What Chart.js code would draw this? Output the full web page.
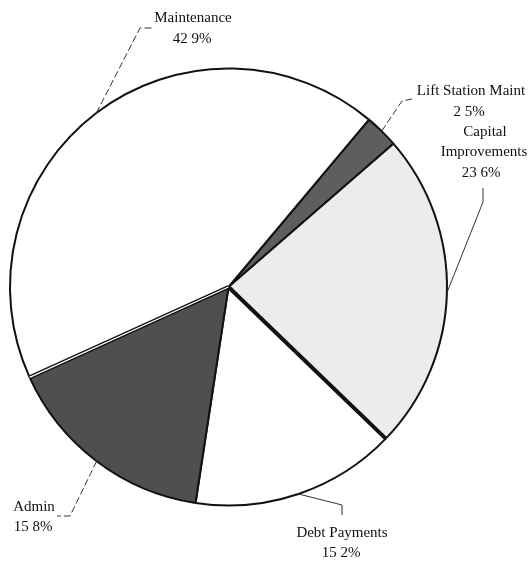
<!DOCTYPE html>
<html>
<head>
<meta charset="utf-8">
<script src="https://cdn.jsdelivr.net/npm/chart.js@4.4.1/dist/chart.umd.min.js"></script>
<style>
  html, body { margin: 0; padding: 0; background: #fff; }
  #wrap { width: 529px; height: 561px; }
</style>
</head>
<body>
<div id="wrap"><canvas id="pie" width="529" height="561"></canvas></div>
<script>
// slice order runs clockwise starting just right of the top
const categories = ["Lift Station Maint", "Capital Improvements", "Debt Payments", "Admin", "Maintenance"];
const shares = [2.5, 23.6, 15.2, 15.8, 42.9];
const shareText = ["2 5%", "23 6%", "15 2%", "15 8%", "42 9%"];
const sliceColors = ["#5e5e5e", "#ececec", "#ffffff", "#4f4f4f", "#ffffff"];

// label text lines, placed around the pie, with leader line bends
const callouts = [
  { lines: ["Lift Station Maint", shareText[0]], at: [[471, 91], [469, 112]], bend: [[402, 101], [412, 99]], dash: true },
  { lines: ["Capital", "Improvements", shareText[1]], at: [[485, 132], [484, 152], [481, 173]], bend: [[483, 202], [483, 188]], dash: false },
  { lines: ["Debt Payments", shareText[2]], at: [[342, 533], [341, 553]], bend: [[342, 505], [342, 515]], dash: false },
  { lines: ["Admin", shareText[3]], at: [[34, 507], [33, 527]], bend: [[70, 516], [57, 516]], dash: true },
  { lines: ["Maintenance", shareText[4]], at: [[193, 18], [192, 39]], bend: [[140, 28], [152, 28]], dash: true },
];

function edge(ctx, arc, angle, width, color) {
  ctx.strokeStyle = color;
  ctx.lineWidth = width;
  ctx.beginPath();
  ctx.moveTo(arc.x, arc.y);
  ctx.lineTo(arc.x + Math.cos(angle) * arc.outerRadius, arc.y + Math.sin(angle) * arc.outerRadius);
  ctx.stroke();
}

const calloutPlugin = {
  id: "callouts",
  afterDatasetsDraw(chart) {
    const ctx = chart.ctx;
    const arcs = chart.getDatasetMeta(0).data;
    ctx.save();
    // heavy divider between Capital and Debt, doubled one between Admin and Maintenance
    edge(ctx, arcs[1], arcs[1].endAngle, 4, "#111");
    edge(ctx, arcs[3], arcs[3].endAngle, 4, "#111");
    edge(ctx, arcs[3], arcs[3].endAngle, 1.3, "#fff");
    callouts.forEach((c, i) => {
      const arc = arcs[i];
      const mid = (arc.startAngle + arc.endAngle) / 2;
      const ax = arc.x + Math.cos(mid) * arc.outerRadius;
      const ay = arc.y + Math.sin(mid) * arc.outerRadius;
      ctx.strokeStyle = "#333";
      ctx.lineWidth = 1;
      ctx.setLineDash(c.dash ? [7, 3] : []);
      ctx.beginPath();
      ctx.moveTo(ax, ay);
      c.bend.forEach(p => ctx.lineTo(p[0], p[1]));
      ctx.stroke();
      ctx.setLineDash([]);
      ctx.fillStyle = "#111";
      ctx.font = "15px 'Liberation Serif', 'Times New Roman', serif";
      ctx.textAlign = "center";
      ctx.textBaseline = "middle";
      c.lines.forEach((t, j) => ctx.fillText(t, c.at[j][0], c.at[j][1]));
    });
    ctx.restore();
  }
};

new Chart(document.getElementById("pie"), {
  type: "pie",
  data: {
    labels: categories,
    datasets: [{
      data: shares,
      backgroundColor: sliceColors,
      borderColor: "#111",
      borderWidth: 2,
      hoverOffset: 0,
    }],
  },
  options: {
    responsive: false,
    animation: false,
    events: [],
    rotation: 40,
    layout: { padding: { left: 9, right: 81, top: 66, bottom: 53 } },
    plugins: {
      legend: { display: false },
      tooltip: { enabled: false },
    },
  },
  plugins: [calloutPlugin],
});
</script>
</body>
</html>
